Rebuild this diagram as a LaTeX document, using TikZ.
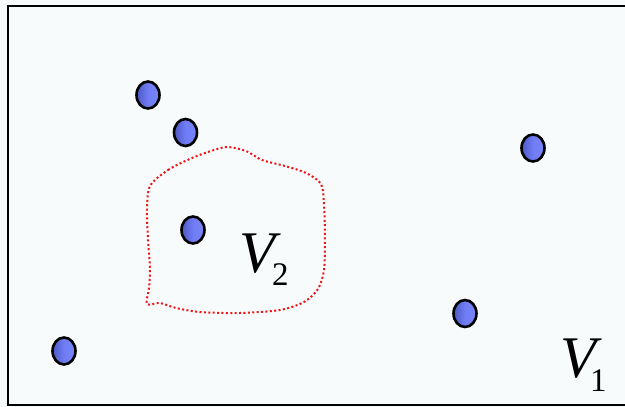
\documentclass[tikz,border=0pt]{standalone}
\usepackage{fontspec}
\setmainfont{Liberation Serif}
\usetikzlibrary{shapes.geometric}
\definecolor{bg}{RGB}{247,251,252}
\definecolor{dotblue}{RGB}{96,110,244}
\definecolor{dotred}{RGB}{240,20,20}
\tikzset{
  vertexdot/.style={ellipse, draw=black, line width=2.6pt, minimum width=23pt, minimum height=27pt, inner sep=0pt,
    left color=dotblue!80!black, right color=dotblue!85!white, middle color=dotblue!90!white},
  setlabel/.style={anchor=base west, inner sep=0pt, text=black}
}
\newcommand{\vbig}{\fontsize{59}{59}\selectfont\itshape}
\newcommand{\vsub}{\fontsize{33}{33}\selectfont\upshape}
\begin{document}
\begin{tikzpicture}[x=1pt,y=-1pt]
\useasboundingbox (0,0) rectangle (625,407);
\fill[bg] (0,0) rectangle (625,407);
\draw[line width=2.2pt] (640,6.3) -- (7.7,6.3) -- (7.7,405) -- (640,405);
% region V2
\draw[dotred, line width=2pt, dash pattern=on 2pt off 2.4pt] plot[smooth cycle, tension=0.5] coordinates {
 (150,186) (168,170) (192,158) (214,150) (228,147) (246,151) (262,160) (285,166) (306,173) (321,184)
 (324,205) (325,240) (324,270) (318,289) (304,302) (280,310) (240,313) (200,312) (176,308) (160,303)
 (147,304) (149,288) (150,268) (148,240) (147,210)};
% vertices
\node[vertexdot] (a) at (148,95) {};
\node[vertexdot] (b) at (185.5,132.5) {};
\node[vertexdot] (c) at (193,230) {};
\node[vertexdot] (d) at (533,148) {};
\node[vertexdot] (e) at (465,313.5) {};
\node[vertexdot] (f) at (64,351) {};
% labels
\node[setlabel] (v2) at (239,272) {\vbig V\kern-3pt\raisebox{-13pt}{\vsub 2}};
\node[setlabel] (v1) at (560,377) {\vbig V\kern-6pt\raisebox{-14pt}{\vsub 1}};
\end{tikzpicture}
\end{document}
